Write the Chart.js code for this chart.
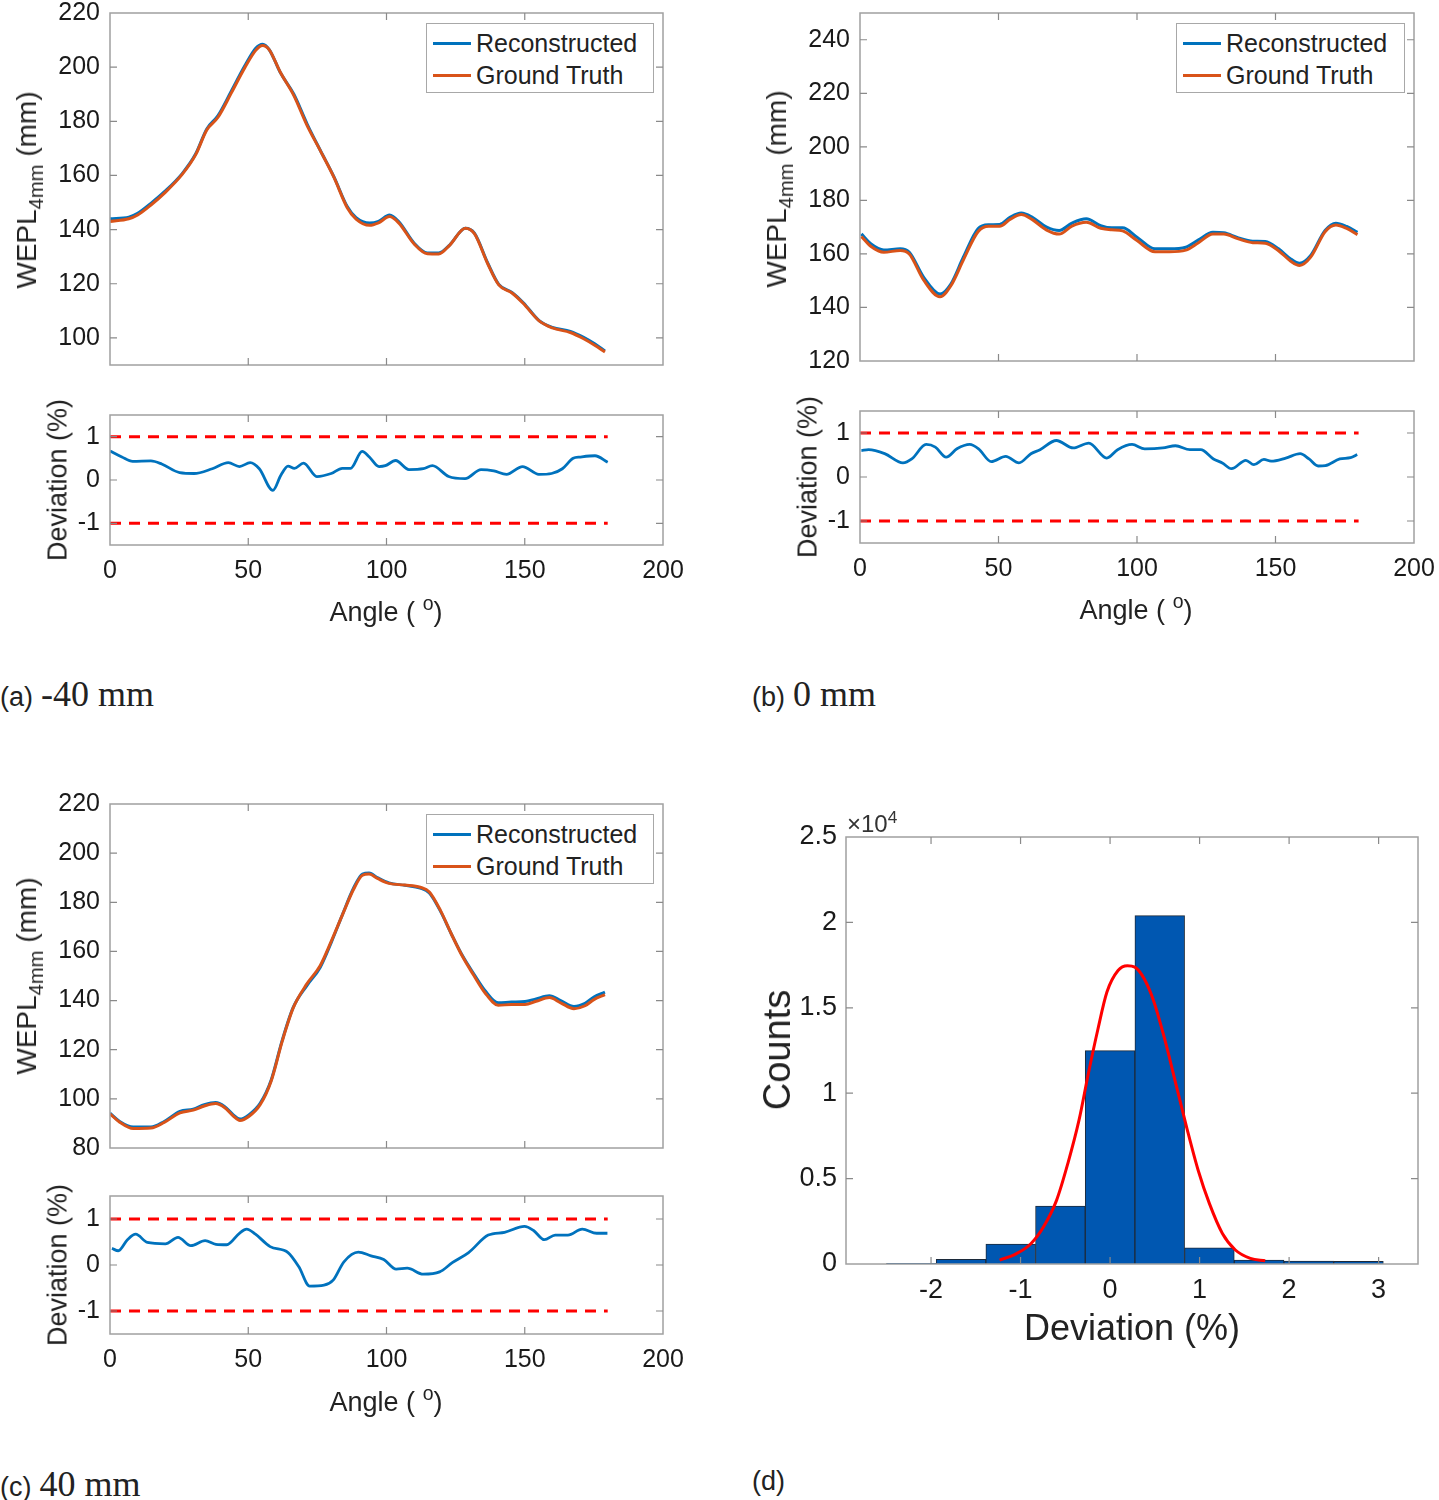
<!DOCTYPE html>
<html>
<head>
<meta charset="utf-8">
<script src="https://cdn.jsdelivr.net/npm/chart.js@4.4.1/dist/chart.umd.min.js"></script>
<style>
  html, body { margin:0; padding:0; background:#fff; }
  #wrap { position:relative; width:1439px; height:1500px; overflow:hidden; font-family:'Liberation Sans', Arial, sans-serif; color:#222; }
  canvas { position:absolute; }
  .t { position:absolute; white-space:nowrap; line-height:1; }
  .rot { transform:translate(-50%,-50%) rotate(-90deg); }
  .ctr { transform:translate(-50%,-50%); }
  sub { font-size:0.72em; vertical-align:-0.35em; line-height:0; }
  sup { font-size:0.72em; vertical-align:0.55em; line-height:0; }
  .legend { position:absolute; background:#fff; border:1.5px solid #a8a8a8; box-sizing:border-box; }
  .lrow { position:absolute; left:6px; height:30px; display:flex; align-items:center; font-size:25px; }
  .lline { display:inline-block; width:38px; height:3px; margin-right:5px; }
  .cap { position:absolute; white-space:nowrap; line-height:1; }
  .cap .s { font-family:'Liberation Sans', Arial, sans-serif; font-size:27px; }
  .cap .r { font-family:'Liberation Serif', 'Times New Roman', serif; font-size:36px; margin-left:8px; }
</style>
</head>
<body>
<div id="wrap">
  <canvas id="topA" style="left:0px;top:0px;" width="700" height="380"></canvas>
  <canvas id="devA" style="left:0px;top:395px;" width="700" height="200"></canvas>
  <canvas id="topB" style="left:740px;top:0px;" width="699" height="380"></canvas>
  <canvas id="devB" style="left:740px;top:390px;" width="699" height="200"></canvas>
  <canvas id="topC" style="left:0px;top:780px;" width="700" height="380"></canvas>
  <canvas id="devC" style="left:0px;top:1175px;" width="700" height="210"></canvas>
  <canvas id="hist" style="left:740px;top:800px;" width="699" height="520"></canvas>

  <!-- axis titles -->
  <div class="t rot" style="left:27px;top:190px;font-size:28px;">WEPL<sub>4mm</sub> (mm)</div>
  <div class="t rot" style="left:777px;top:189px;font-size:28px;">WEPL<sub>4mm</sub> (mm)</div>
  <div class="t rot" style="left:27px;top:976px;font-size:28px;">WEPL<sub>4mm</sub> (mm)</div>
  <div class="t rot" style="left:58px;top:480px;font-size:27px;">Deviation (%)</div>
  <div class="t rot" style="left:808px;top:477px;font-size:27px;">Deviation (%)</div>
  <div class="t rot" style="left:58px;top:1265px;font-size:27px;">Deviation (%)</div>
  <div class="t ctr" style="left:386px;top:612px;font-size:27px;">Angle ( <sup>o</sup>)</div>
  <div class="t ctr" style="left:1136px;top:610px;font-size:27px;">Angle ( <sup>o</sup>)</div>
  <div class="t ctr" style="left:386px;top:1402px;font-size:27px;">Angle ( <sup>o</sup>)</div>
  <div class="t rot" style="left:777px;top:1050px;font-size:38px;">Counts</div>
  <div class="t ctr" style="left:1132px;top:1328px;font-size:36px;">Deviation (%)</div>
  <div class="t" style="left:847px;top:812px;font-size:24px;color:#333;">×10<sup>4</sup></div>

  <!-- legends -->
  <div class="legend" style="left:426px;top:23px;width:228px;height:70px;">
    <div class="lrow" style="top:4px;"><span class="lline" style="background:#0072BD"></span>Reconstructed</div>
    <div class="lrow" style="top:36px;"><span class="lline" style="background:#D95319"></span>Ground Truth</div>
  </div>
  <div class="legend" style="left:1176px;top:23px;width:229px;height:70px;">
    <div class="lrow" style="top:4px;"><span class="lline" style="background:#0072BD"></span>Reconstructed</div>
    <div class="lrow" style="top:36px;"><span class="lline" style="background:#D95319"></span>Ground Truth</div>
  </div>
  <div class="legend" style="left:426px;top:814px;width:228px;height:70px;">
    <div class="lrow" style="top:4px;"><span class="lline" style="background:#0072BD"></span>Reconstructed</div>
    <div class="lrow" style="top:36px;"><span class="lline" style="background:#D95319"></span>Ground Truth</div>
  </div>

  <!-- captions -->
  <div class="cap" style="left:0px;top:676px;"><span class="s">(a)</span><span class="r">-40 mm</span></div>
  <div class="cap" style="left:752px;top:676px;"><span class="s">(b)</span><span class="r">0 mm</span></div>
  <div class="cap" style="left:0px;top:1466px;"><span class="s">(c)</span><span class="r">40 mm</span></div>
  <div class="cap" style="left:752px;top:1468px;"><span class="s">(d)</span></div>
</div>

<script>
// ---------------- DATA ----------------
// Panel (a) -40 mm
const angleA = [0, 6.8, 10, 14.8, 19.7, 26.1, 31, 35, 39, 43.9, 48.7, 52.7, 55.2, 57.6, 61.6, 66.5, 71.3, 76.1, 81, 85.8, 89, 93.9, 97.1, 101.1, 104.4, 110, 114.8, 118.9, 122.9, 128.5, 131.8, 136.6, 140.6, 145.5, 149.5, 155.2, 160, 166.5, 171.3, 175.3, 179];
const reconA = [144, 144.6, 146, 149.7, 154, 160.7, 168, 177.2, 182, 191.2, 200.4, 207, 208.5, 206.5, 198, 190, 179, 169.2, 159.5, 148.5, 144.4, 142.4, 143, 145.4, 143, 135, 131.4, 131.4, 134.4, 140.5, 138.7, 127.7, 119.8, 116.7, 113, 106.4, 103.9, 102.4, 100.2, 97.8, 95.2];
const truthA = [143.0, 144.0, 145.4, 149.1, 153.5, 160.4, 167.7, 176.8, 181.4, 190.5, 199.7, 206.2, 208.0, 206.4, 198.1, 189.5, 178.4, 169.1, 159.3, 148.1, 143.9, 141.6, 142.5, 144.8, 142.5, 134.7, 131.1, 131.0, 134.3, 140.5, 138.5, 127.4, 119.6, 116.5, 112.7, 106.3, 103.7, 102.0, 99.7, 97.3, 94.8];
const devAngleA = [0, 4.3, 8.2, 14.8, 18.7, 25.2, 30.4, 37, 42.8, 46.8, 50.7, 54, 58.9, 61.8, 64.4, 66.7, 70, 74.8, 80, 84, 87, 91.2, 93.8, 97.3, 99.6, 103.3, 108.1, 113.3, 116.6, 122.5, 128.4, 134.2, 138.8, 143.4, 149.2, 155.1, 159.7, 163.6, 167.5, 170.1, 175.4, 180];
const devA = [0.67, 0.53, 0.43, 0.44, 0.37, 0.17, 0.15, 0.26, 0.40, 0.31, 0.40, 0.26, -0.24, 0.11, 0.32, 0.27, 0.39, 0.08, 0.15, 0.27, 0.27, 0.66, 0.53, 0.31, 0.33, 0.45, 0.24, 0.26, 0.33, 0.08, 0.03, 0.24, 0.21, 0.13, 0.31, 0.13, 0.15, 0.26, 0.50, 0.53, 0.56, 0.41];

// Panel (b) 0 mm
const angleB = [0.5, 4, 8.6, 14.5, 17.8, 23, 28.9, 32.8, 37.3, 42.6, 46.5, 50.4, 54.3, 58.2, 62.1, 67.4, 71.9, 76.5, 81.7, 86.9, 90.9, 94.8, 100, 106.5, 111.7, 117.6, 122.2, 127.4, 131.3, 136.6, 141.8, 146.3, 151.1, 155.5, 158.7, 162.7, 167.9, 171.8, 175.7, 179.6];
const reconB = [167.5, 163.75, 161.5, 161.9, 160.6, 151.25, 145, 148.75, 158.75, 169.4, 170.9, 171, 173.75, 175.25, 173.75, 170, 168.75, 171.5, 173.1, 170.6, 169.75, 169.75, 166.25, 161.9, 161.9, 162.5, 165.25, 168.1, 167.9, 166, 164.75, 164.6, 161.9, 158.1, 156.5, 159.4, 168.75, 171.5, 170.25, 168.1];
const truthB = [166.5, 162.75, 160.6, 161.3, 160.0, 150.2, 144.0, 148.1, 157.7, 168.3, 170.3, 170.3, 173.0, 174.7, 172.9, 168.9, 167.4, 170.4, 171.8, 169.6, 169.0, 168.6, 165.0, 160.8, 160.8, 161.4, 164.2, 167.4, 167.4, 165.6, 164.2, 164.0, 161.2, 157.3, 155.7, 158.8, 168.3, 170.8, 169.5, 167.2];
const devAngleB = [0.5, 3.1, 8.9, 15.5, 18.7, 23.9, 27.2, 31.1, 35, 39.6, 42.8, 47.4, 52.6, 57.4, 61.7, 65, 70.9, 77, 82.6, 89.1, 93, 98.2, 102.8, 109.3, 113.9, 119.1, 123, 127.6, 130.8, 134.1, 139.3, 142.2, 145.8, 148.4, 153.7, 158.9, 162.1, 165.4, 168, 173.2, 177.1, 179.5];
const devB = [0.60, 0.62, 0.53, 0.32, 0.41, 0.74, 0.68, 0.45, 0.64, 0.74, 0.64, 0.35, 0.47, 0.32, 0.53, 0.62, 0.83, 0.66, 0.77, 0.43, 0.62, 0.74, 0.64, 0.66, 0.71, 0.62, 0.62, 0.41, 0.32, 0.19, 0.38, 0.28, 0.40, 0.36, 0.43, 0.53, 0.41, 0.25, 0.26, 0.41, 0.44, 0.51];

// Panel (c) 40 mm
const angleC = [0, 3.5, 8.4, 14.8, 19.6, 25.3, 30.1, 34.1, 38.2, 41.4, 44.6, 47, 50.2, 54.3, 58.3, 62.3, 66.3, 71.2, 76, 80, 84.1, 88.1, 91.3, 93.7, 96.9, 100.9, 106.6, 112.2, 115.5, 119.5, 123.5, 127.5, 131.6, 135.6, 140.4, 145.2, 150.1, 154.1, 158.9, 163, 167.8, 171.8, 175, 179];
const reconC = [94.2, 90.8, 88.5, 88.5, 90.8, 94.9, 95.8, 97.6, 98.5, 96.9, 93.5, 91.8, 93.5, 98.2, 107.7, 123.9, 137.3, 146.1, 153.5, 163.6, 175.1, 185.8, 191.5, 191.9, 189.9, 187.9, 186.9, 185.8, 183.8, 176.4, 167, 158.2, 150.8, 144.1, 139.1, 139.4, 139.6, 140.7, 142, 140, 137.6, 138.9, 141.4, 143.4];
const truthC = [93.9, 90.5, 87.9, 88.1, 90.4, 94.3, 95.4, 97.1, 98.1, 96.5, 93.0, 91.2, 92.8, 97.6, 107.3, 123.5, 137.1, 146.8, 154.2, 164.1, 175.0, 185.3, 191.0, 191.5, 189.6, 187.7, 187.0, 186.1, 184.2, 176.7, 167.0, 157.9, 150.2, 143.2, 138.1, 138.4, 138.4, 139.7, 141.2, 139.1, 136.7, 137.9, 140.4, 142.4];
const devAngleC = [0.7, 3, 6.3, 9.3, 13.5, 20, 24.6, 29.2, 34.4, 38.3, 42.2, 46.8, 49.4, 52.6, 57.9, 64.4, 68.3, 72.2, 77.4, 80.7, 84.6, 89.8, 94.4, 99, 103.5, 107.5, 113.3, 119.2, 123.8, 129.7, 136.8, 142.7, 149.9, 153.2, 157.1, 161, 165.6, 170.8, 176, 179.9];
const devC = [0.36, 0.31, 0.55, 0.67, 0.49, 0.46, 0.60, 0.42, 0.53, 0.45, 0.44, 0.69, 0.78, 0.67, 0.40, 0.27, -0.04, -0.46, -0.44, -0.33, 0.07, 0.28, 0.20, 0.12, -0.09, -0.07, -0.20, -0.15, 0.05, 0.27, 0.65, 0.71, 0.84, 0.75, 0.55, 0.65, 0.65, 0.78, 0.69, 0.69];

// Tolerance lines
const limitAngles = [0, 180];
const upperLimit = [1, 1];
const lowerLimit = [-1, -1];

// Panel (d) histogram
const binCenters = [-2.22, -1.665, -1.11, -0.555, 0, 0.555, 1.11, 1.665, 2.22, 2.775];
const binCounts = [40, 270, 1170, 3390, 12490, 20400, 950, 230, 170, 160];
const fitX = [-1.234, -1.055, -0.888, -0.743, -0.597, -0.472, -0.347, -0.243, -0.139, -0.035, 0.089, 0.194, 0.277, 0.381, 0.485, 0.609, 0.734, 0.859, 0.984, 1.109, 1.255, 1.4, 1.567, 1.733];
const fitY = [230, 580, 1170, 2180, 3740, 5880, 8420, 11140, 13670, 15920, 17180, 17460, 17380, 16700, 15430, 13190, 10560, 7930, 5490, 3550, 1790, 820, 330, 190];

// Tick labels
const ticksTopA = [100, 120, 140, 160, 180, 200, 220];
const ticksTopB = [120, 140, 160, 180, 200, 220, 240];
const ticksTopC = [80, 100, 120, 140, 160, 180, 200, 220];
const ticksDev = [-1, 0, 1];
const ticksAngle = [0, 50, 100, 150, 200];
const ticksHistX = [-2, -1, 0, 1, 2, 3];
const ticksHistY = [0, 5000, 10000, 15000, 20000, 25000];

// ---------------- CHARTS ----------------
Chart.defaults.font.family = "'Liberation Sans', Arial, sans-serif";
Chart.defaults.color = '#222';
Chart.defaults.animation = false;
Chart.defaults.responsive = false;
Chart.defaults.plugins.legend.display = false;
Chart.defaults.plugins.tooltip.enabled = false;

const pts = (xs, ys) => xs.map((x, i) => ({x: x, y: ys[i]}));

const framePlugin = {
  id: 'frame',
  afterDraw(chart) {
    const {ctx, chartArea: a, scales} = chart;
    ctx.save();
    ctx.strokeStyle = '#a0a0a0';
    ctx.lineWidth = 1.5;
    ctx.strokeRect(a.left, a.top, a.right - a.left, a.bottom - a.top);
    const L = 7;
    ctx.lineWidth = 1.2;
    ctx.strokeStyle = '#8a8a8a';
    scales.x.ticks.forEach(t => {
      const p = scales.x.getPixelForValue(t.value);
      if (p <= a.left + 1 || p >= a.right - 1) return;
      ctx.beginPath(); ctx.moveTo(p, a.bottom); ctx.lineTo(p, a.bottom - L);
      ctx.moveTo(p, a.top); ctx.lineTo(p, a.top + L); ctx.stroke();
    });
    scales.y.ticks.forEach(t => {
      const p = scales.y.getPixelForValue(t.value);
      if (p <= a.top + 1 || p >= a.bottom - 1) return;
      ctx.beginPath(); ctx.moveTo(a.left, p); ctx.lineTo(a.left + L, p);
      ctx.moveTo(a.right, p); ctx.lineTo(a.right - L, p); ctx.stroke();
    });
    ctx.restore();
  }
};

function xScale(min, max, list, showLabels, fontSize, h, pad) {
  return {
    type: 'linear', min: min, max: max,
    grid: {display: false, drawTicks: false},
    border: {display: false},
    ticks: {display: showLabels, padding: pad, color: '#1a1a1a', font: {size: fontSize}, maxRotation: 0, autoSkip: false},
    afterBuildTicks: s => { s.ticks = list.map(v => ({value: v})); },
    afterFit: s => { s.height = h; s.paddingLeft = 0; s.paddingRight = 0; }
  };
}
function yScale(min, max, list, fontSize, cb, pad, w) {
  return {
    type: 'linear', min: min, max: max,
    grid: {display: false, drawTicks: false},
    border: {display: false},
    ticks: {padding: pad, color: '#1a1a1a', font: {size: fontSize}, autoSkip: false, callback: cb || (v => String(v))},
    afterBuildTicks: s => { s.ticks = list.map(v => ({value: v})); },
    afterFit: s => { s.width = w; s.paddingTop = 0; s.paddingBottom = 0; }
  };
}

function makeTop(id, angles, recon, truth, ymin, ymax, yticks, g) {
  new Chart(document.getElementById(id), {
    type: 'line',
    data: {
      datasets: [
        {data: pts(angles, truth), borderColor: '#D95319', borderWidth: 3, pointRadius: 0, cubicInterpolationMode: 'monotone', order: 0},
        {data: pts(angles, recon), borderColor: '#0072BD', borderWidth: 3, pointRadius: 0, cubicInterpolationMode: 'monotone', order: 1}
      ]
    },
    options: {
      layout: {padding: {left: 0, right: g.right, top: g.top, bottom: 0}},
      scales: {x: xScale(0, 200, ticksAngle, false, 25, g.xh, 10), y: yScale(ymin, ymax, yticks, 25, null, 10, g.yw)}
    },
    plugins: [framePlugin]
  });
}

function makeDev(id, angles, dev, g) {
  new Chart(document.getElementById(id), {
    type: 'line',
    data: {
      datasets: [
        {data: pts(angles, dev), borderColor: '#0072BD', borderWidth: 2.8, pointRadius: 0, cubicInterpolationMode: 'monotone', order: 0},
        {data: pts(limitAngles, upperLimit), borderColor: '#FF0000', borderWidth: 3, borderDash: [11, 8], pointRadius: 0, order: 1},
        {data: pts(limitAngles, lowerLimit), borderColor: '#FF0000', borderWidth: 3, borderDash: [11, 8], pointRadius: 0, order: 1}
      ]
    },
    options: {
      layout: {padding: {left: 0, right: g.right, top: g.top, bottom: 0}},
      scales: {x: xScale(0, 200, ticksAngle, true, 25, g.xh, 11), y: yScale(-1.5, 1.5, ticksDev, 25, null, 10, g.yw)}
    },
    plugins: [framePlugin]
  });
}

makeTop('topA', angleA, reconA, truthA, 90, 220, ticksTopA, {yw: 110, right: 37, top: 13, xh: 15});
makeTop('topB', angleB, reconB, truthB, 120, 250, ticksTopB, {yw: 120, right: 25, top: 13, xh: 19});
makeTop('topC', angleC, reconC, truthC, 80, 220, ticksTopC, {yw: 110, right: 37, top: 24, xh: 12});

makeDev('devA', devAngleA, devA, {yw: 110, right: 37, top: 20, xh: 50});
makeDev('devB', devAngleB, devB, {yw: 120, right: 25, top: 21, xh: 47});
makeDev('devC', devAngleC, devC, {yw: 110, right: 37, top: 21, xh: 51});

new Chart(document.getElementById('hist'), {
  type: 'bar',
  data: {
    datasets: [
      {type: 'line', data: pts(fitX, fitY), borderColor: '#FF0000', borderWidth: 3, pointRadius: 0, cubicInterpolationMode: 'monotone', order: 0},
      {type: 'bar', data: pts(binCenters, binCounts), backgroundColor: '#0057B1', borderColor: '#1c2a3a', borderWidth: 1, barPercentage: 1, categoryPercentage: 1, order: 1}
    ]
  },
  options: {
    layout: {padding: {left: 0, right: 21, top: 37, bottom: 0}},
    scales: {
      x: Object.assign(xScale(-2.95, 3.44, ticksHistX, true, 27, 56, 10), {offset: false}),
      y: yScale(0, 25000, ticksHistY, 27, v => String(v / 10000), 9, 106)
    }
  },
  plugins: [framePlugin]
});
</script>
</body>
</html>
